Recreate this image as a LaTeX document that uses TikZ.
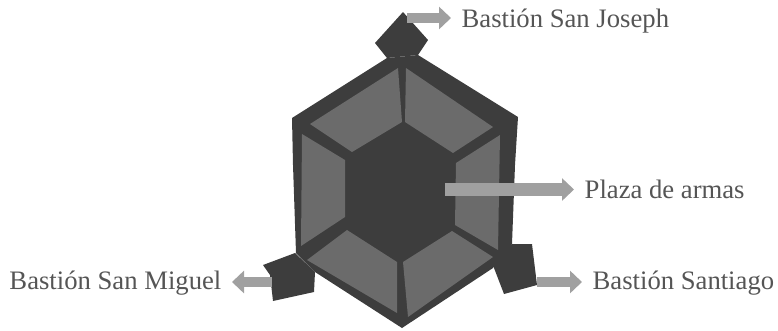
\documentclass[tikz,border=0pt]{standalone}
\usepackage{fontspec}
\setmainfont{Liberation Serif}
\usetikzlibrary{arrows.meta, positioning, calc}
\definecolor{wall}{HTML}{3D3D3D}
\definecolor{panel}{HTML}{6B6B6B}
\definecolor{pointer}{HTML}{A0A0A0}
\definecolor{labeltext}{HTML}{555555}

\begin{document}
\begin{tikzpicture}[
  x=0.75pt, y=-0.75pt,
  wallpart/.style={fill=wall},
  panelpart/.style={fill=panel},
  lab/.style={font=\fontsize{20}{22}\selectfont, text=labeltext, inner sep=0pt, outer sep=8pt},
  pointerline/.style={draw=pointer, line width=7.5pt, -{Triangle[length=9pt, width=16.5pt]}}
]
  \useasboundingbox (0,0) rectangle (778,330);

  % Walls and the three bastions
  \fill[wallpart] (387,58) -- (418,55) -- (518,117) -- (515,165) -- (512,244) -- (493,268)
    -- (402,328) -- (315,272) -- (296,253) -- (293,165) -- (292,118) -- cycle;
  \fill[wallpart] (403,12) -- (428,40) -- (418,55) -- (387,58) -- (375,43) -- cycle;
  \fill[wallpart] (495,258) -- (512,244) -- (532,244) -- (537,285) -- (504,294) -- (494,268) -- cycle;
  \fill[wallpart] (263,265) -- (295,253) -- (315,272) -- (314,292) -- (273,301) -- (270,275) -- cycle;

  % Panels around the plaza
  \fill[panelpart] (398,68) -- (402,122) -- (352,152) -- (310,124) -- cycle;
  \fill[panelpart] (406,68) -- (493,127) -- (453,153) -- (405,122) -- cycle;
  \fill[panelpart] (302,134) -- (345,160) -- (345,217) -- (301,246) -- cycle;
  \fill[panelpart] (500,135) -- (498,250) -- (455,225) -- (456,163) -- cycle;
  \fill[panelpart] (347,230) -- (397,262) -- (397,313) -- (307,260) -- cycle;
  \fill[panelpart] (452,231) -- (493,257) -- (408,317) -- (403,262) -- cycle;

  % Labels
  \node[lab, anchor=west] (joseph) at (451,21) {Bastión San Joseph};
  \node[lab, anchor=west] (plaza) at (574,189.5) {Plaza de armas};
  \node[lab, anchor=west] (santiago) at (582,283) {Bastión Santiago};
  \node[lab, anchor=east] (miguel) at (232,283) {Bastión San Miguel};

  \coordinate (josephstart) at (407,18);
  \coordinate (plazastart) at (445,189.5);
  \coordinate (santiagostart) at (537,282);
  \coordinate (miguelstart) at (272,282);

  \draw[pointerline] (josephstart) -- (joseph.west |- josephstart);
  \draw[pointerline, line width=9.75pt] (plazastart) -- (plaza);
  \draw[pointerline] (santiagostart) -- (santiago.west |- santiagostart);
  \draw[pointerline] (miguelstart) -- (miguel.east |- miguelstart);
\end{tikzpicture}
\end{document}
